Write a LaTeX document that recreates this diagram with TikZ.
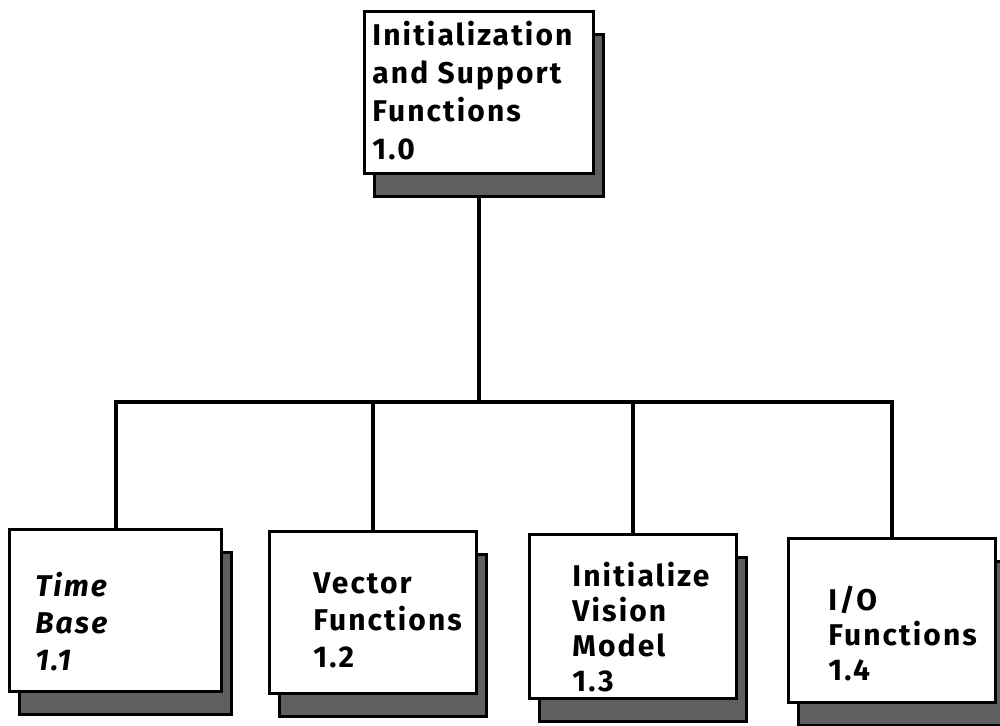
\documentclass[tikz,border=0pt]{standalone}
\usepackage{fontspec}
\newfontfamily\chicago{Fira Sans}[LetterSpace=7]
\usepackage{tikz}
\usetikzlibrary{positioning, calc, shadows, backgrounds}
\definecolor{shadegray}{RGB}{95, 95, 95}

\tikzset{
    funcbox/.style={draw, line width=1.5pt, fill=white, anchor=north west,
        minimum width=103.5pt, minimum height=82pt,
        drop shadow={shadow xshift=5pt, shadow yshift=-11.5pt, opacity=1,
                     fill=shadegray, draw=black, line width=1.5pt}},
    functext/.style={anchor=north west, inner sep=0pt, align=left,
        font=\chicago\bfseries\fontsize{15}{19}\selectfont},
    link/.style={line width=2pt}
}

\begin{document}
\begin{tikzpicture}[x=0.5pt, y=-0.5pt]
    \useasboundingbox (0,0) rectangle (1000,725);

    % Top level
    \node[funcbox, minimum width=114.5pt, minimum height=81pt] (init) at (363,10) {};
    \node[functext] (initlbl) at ($(init.north west)+(9,11)$)
        {Initialization\\and Support\\Functions\\1.0};

    % Second level
    \node[funcbox, minimum width=106pt, minimum height=81pt] (timebase) at (8,528) {};
    \node[functext, font=\chicago\bfseries\itshape\fontsize{15}{18.5}\selectfont]
        (timelbl) at ($(timebase.north west)+(27,44)$) {Time\\Base\\1.1};

    \node[funcbox, minimum height=81pt] (vector) at (268,530) {};
    \node[functext, font=\chicago\bfseries\fontsize{15}{18.5}\selectfont]
        (vectorlbl) at ($(vector.north west)+(45,42)$) {Vector\\Functions\\1.2};

    \node[funcbox] (vision) at (528,533) {};
    \node[functext, font=\chicago\bfseries\fontsize{15}{17.5}\selectfont]
        (visionlbl) at ($(vision.north west)+(44,29)$)
        {Initialize\\Vision\\Model\\1.3};

    \node[funcbox] (io) at (787,537) {};
    \node[functext, font=\chicago\bfseries\fontsize{15}{17.5}\selectfont]
        (iolbl) at ($(io.north west)+(41,49)$) {I/O\\Functions\\1.4};

    % Connectors
    \coordinate (bar) at (480,402);
    \begin{pgfonlayer}{background}
        \draw[link] (init.south) -- (init.south |- bar);
        \draw[link] (timebase.north) |- (bar) -| (io.north);
        \foreach \b in {vector, vision} {
            \draw[link] (\b.north) -- (\b.north |- bar);
        }
    \end{pgfonlayer}
\end{tikzpicture}
\end{document}
